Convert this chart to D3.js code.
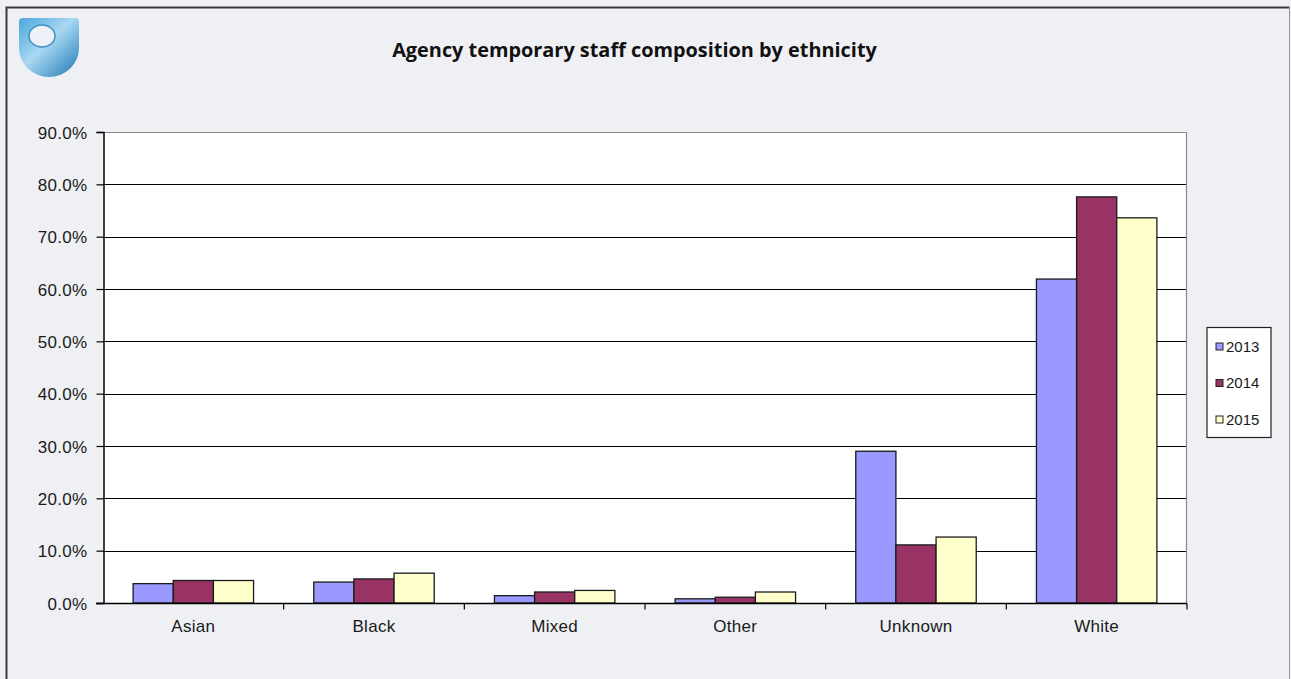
<!DOCTYPE html>
<html>
<head>
<meta charset="utf-8">
<script src="https://cdn.jsdelivr.net/npm/d3@7/dist/d3.min.js"></script>
<style>
  html, body { margin: 0; padding: 0; background: #eff0f4; }
  svg { display: block; }
</style>
</head>
<body>
<svg id="chart" width="1291" height="679"></svg>
<script>
const categories = ["Asian", "Black", "Mixed", "Other", "Unknown", "White"];
const years = ["2013", "2014", "2015"];
const values2013 = [3.7, 4.0, 1.4, 0.8, 29.0, 61.9];
const values2014 = [4.3, 4.6, 2.1, 1.1, 11.1, 77.6];
const values2015 = [4.3, 5.7, 2.4, 2.1, 12.6, 73.6];
const yTicks = [0, 10, 20, 30, 40, 50, 60, 70, 80, 90];
const colors = ["#9999ff", "#993366", "#ffffcc"];
const title = "Agency temporary staff composition by ethnicity";

(function () {
const series = [values2013, values2014, values2015];
const svg = d3.select("#chart");

// background & outer frame
svg.append("rect").attr("x", 0).attr("y", 0).attr("width", 1291).attr("height", 679).attr("fill", "#eff0f4");
svg.append("path").attr("d", "M6.5,690 V7.5 H1289.5")
  .attr("fill", "none").attr("stroke", "#3a3a3a").attr("stroke-width", 2);
svg.append("line").attr("x1", 1289.5).attr("x2", 1289.5).attr("y1", 7).attr("y2", 690)
  .attr("stroke", "#9a9a9a").attr("stroke-width", 1);

// logo
const defs = svg.append("defs");
const g1 = defs.append("linearGradient").attr("id", "logoGrad")
  .attr("x1", "0").attr("y1", "0").attr("x2", "1").attr("y2", "1");
g1.append("stop").attr("offset", "0").attr("stop-color", "#4aa6dc");
g1.append("stop").attr("offset", "0.45").attr("stop-color", "#a9d8f2");
g1.append("stop").attr("offset", "1").attr("stop-color", "#1b78b4");
const lx = 19, ly = 18, lw = 60;
svg.append("path")
  .attr("d", `M${lx + 4},${ly} H${lx + lw - 4} Q${lx + lw},${ly} ${lx + lw},${ly + 4} V${ly + 30} A30,29 0 0 1 ${lx},${ly + 30} V${ly + 4} Q${lx},${ly} ${lx + 4},${ly} Z`)
  .attr("fill", "url(#logoGrad)");
svg.append("ellipse").attr("cx", lx + 23).attr("cy", ly + 18).attr("rx", 13).attr("ry", 11)
  .attr("fill", "#eef2f8").attr("stroke", "#3d8fc4").attr("stroke-width", 1.5);

// title
const titleText = svg.append("text")
  .attr("x", 634.5).attr("y", 57)
  .attr("text-anchor", "middle")
  .attr("font-family", "'Open Sans', sans-serif")
  .attr("font-weight", 700)
  .attr("font-size", 19)
  .attr("fill", "#111")
  .text(title);
const tw = titleText.node().getComputedTextLength();
titleText.attr("font-size", 19 * 485 / tw);

// plot area
const pLeft = 103, pRight = 1187, pTop = 132, pBottom = 603;
svg.append("rect").attr("x", pLeft).attr("y", pTop).attr("width", pRight - pLeft).attr("height", pBottom - pTop)
  .attr("fill", "#ffffff");

const x = d3.scaleBand().domain(categories).range([pLeft, pRight]).padding(0);
const xi = d3.scaleBand().domain(years).range([x.bandwidth() / 6, x.bandwidth() * 5 / 6]).padding(0);
const y = d3.scaleLinear().domain([0, 90]).range([pBottom, pTop]);

// gridlines
svg.append("g").selectAll("line").data(yTicks.filter(t => t > 0 && t < 90)).join("line")
  .attr("x1", pLeft).attr("x2", pRight)
  .attr("y1", d => Math.round(y(d)) + 0.5).attr("y2", d => Math.round(y(d)) + 0.5)
  .attr("stroke", "#000").attr("stroke-width", 1.2);

// top & right plot border
svg.append("path")
  .attr("d", `M${pLeft},${pTop + 0.5} H${pRight - 0.5} V${pBottom}`)
  .attr("fill", "none").attr("stroke", "#8a8a8a").attr("stroke-width", 1.2);

// bars
const gBars = svg.append("g");
categories.forEach((c, ci) => {
  years.forEach((yr, si) => {
    const v = series[si][ci];
    gBars.append("rect")
      .attr("x", x(c) + xi(yr))
      .attr("y", y(v))
      .attr("width", xi.bandwidth())
      .attr("height", y(0) - y(v))
      .attr("fill", colors[si])
      .attr("stroke", "#1a1a1a")
      .attr("stroke-width", 1.3);
  });
});

// y axis
const yAxis = d3.axisLeft(y).tickValues(yTicks).tickSize(7).tickPadding(9)
  .tickFormat(d => d.toFixed(1) + "%");
const ya = svg.append("g").attr("transform", `translate(${pLeft + 0.5},0)`).call(yAxis);
ya.select(".domain").attr("stroke", "#000").attr("stroke-width", 1.5);
ya.selectAll(".tick line").attr("stroke", "#000").attr("stroke-width", 1.2);
ya.selectAll(".tick text")
  .attr("font-family", "'Liberation Sans', Arial, sans-serif")
  .attr("font-size", 17).attr("letter-spacing", 0.3).attr("fill", "#1a1a1a")
  .attr("dy", "0.36em");

// x axis
const xa = svg.append("g").attr("transform", `translate(0,${pBottom + 0.5})`);
xa.append("line").attr("x1", pLeft - 7).attr("x2", pRight).attr("stroke", "#000").attr("stroke-width", 1.5);
xa.selectAll("line.tk").data(categories).join("line").attr("class", "tk")
  .attr("x1", d => x(d) + x.step()).attr("x2", d => x(d) + x.step())
  .attr("y1", 0).attr("y2", 6).attr("stroke", "#000").attr("stroke-width", 1.2);
xa.selectAll("text").data(categories).join("text")
  .attr("x", d => x(d) + x.bandwidth() / 2)
  .attr("y", 28)
  .attr("text-anchor", "middle")
  .attr("font-family", "'Liberation Sans', Arial, sans-serif")
  .attr("font-size", 17).attr("letter-spacing", 0.3).attr("fill", "#1a1a1a")
  .text(d => d);

// legend
const lg = svg.append("g");
lg.append("rect").attr("x", 1207).attr("y", 327.5).attr("width", 64).attr("height", 110)
  .attr("fill", "#ffffff").attr("stroke", "#222").attr("stroke-width", 1.2);
const legendY = d3.scalePoint().domain(years).range([346, 419]);
years.forEach((yr, i) => {
  lg.append("rect").attr("x", 1216).attr("y", legendY(yr) - 3).attr("width", 7).attr("height", 7)
    .attr("fill", colors[i]).attr("stroke", "#222").attr("stroke-width", 1);
  lg.append("text").attr("x", 1226).attr("y", legendY(yr) + 5.5)
    .attr("font-family", "'Liberation Sans', Arial, sans-serif")
    .attr("font-size", 15).attr("fill", "#1a1a1a").text(yr);
});
})();
</script>
</body>
</html>
